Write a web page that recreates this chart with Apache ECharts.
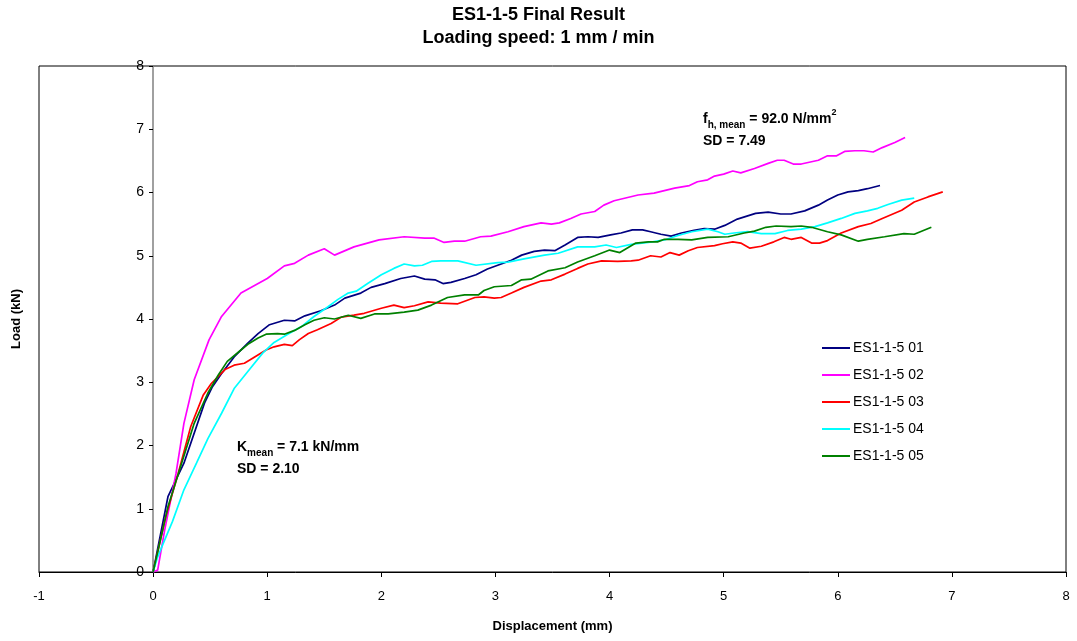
<!DOCTYPE html>
<html>
<head>
<meta charset="utf-8">
<title>ES1-1-5 Final Result</title>
<script src="https://cdn.jsdelivr.net/npm/echarts@6/dist/echarts.min.js"></script>
<style>
    html, body { margin: 0; padding: 0; background: #fff; }
    #chart { width: 1077px; height: 641px; }
</style>
</head>
<body>
<div id="chart"></div>
<script>
// displacement (mm), load (kN) pairs
const es01 = [[0,0],[0.13,1.19],[0.27,1.72],[0.45,2.67],[0.52,2.93],[0.60,3.14],[0.71,3.40],[0.83,3.62],[0.92,3.77],[1.02,3.91],[1.15,3.98],[1.24,3.97],[1.33,4.05],[1.47,4.13],[1.59,4.22],[1.68,4.33],[1.82,4.41],[1.91,4.50],[2.03,4.56],[2.17,4.64],[2.29,4.68],[2.38,4.63],[2.47,4.62],[2.54,4.56],[2.61,4.58],[2.73,4.64],[2.83,4.70],[2.93,4.79],[3.02,4.85],[3.14,4.93],[3.23,5.01],[3.34,5.07],[3.43,5.09],[3.52,5.08],[3.61,5.17],[3.72,5.29],[3.81,5.30],[3.90,5.29],[4.01,5.33],[4.10,5.36],[4.20,5.41],[4.29,5.41],[4.36,5.38],[4.45,5.34],[4.54,5.31],[4.63,5.36],[4.74,5.40],[4.83,5.43],[4.92,5.42],[5.01,5.48],[5.12,5.58],[5.28,5.67],[5.39,5.69],[5.50,5.66],[5.59,5.66],[5.71,5.71],[5.83,5.80],[5.91,5.88],[6.00,5.96],[6.09,6.01],[6.18,6.03],[6.26,6.06],[6.37,6.11]];
const es02 = [[0,0],[0.04,0.03],[0.10,0.65],[0.20,1.55],[0.27,2.35],[0.36,3.04],[0.49,3.67],[0.60,4.04],[0.77,4.41],[1.00,4.64],[1.15,4.84],[1.24,4.88],[1.36,5.01],[1.50,5.11],[1.59,5.01],[1.76,5.14],[1.98,5.25],[2.20,5.30],[2.38,5.28],[2.46,5.28],[2.55,5.21],[2.64,5.23],[2.73,5.23],[2.87,5.30],[2.96,5.31],[3.11,5.38],[3.25,5.46],[3.40,5.52],[3.49,5.50],[3.56,5.52],[3.66,5.59],[3.75,5.66],[3.87,5.70],[3.95,5.80],[4.04,5.87],[4.25,5.96],[4.39,5.99],[4.57,6.07],[4.70,6.11],[4.77,6.17],[4.86,6.20],[4.92,6.26],[5.00,6.29],[5.08,6.34],[5.15,6.31],[5.27,6.38],[5.39,6.46],[5.47,6.51],[5.53,6.51],[5.61,6.45],[5.68,6.45],[5.83,6.51],[5.91,6.58],[5.99,6.58],[6.06,6.65],[6.15,6.66],[6.23,6.66],[6.31,6.64],[6.39,6.71],[6.50,6.79],[6.59,6.87]];
const es03 = [[0,0],[0.11,0.87],[0.22,1.56],[0.33,2.30],[0.44,2.80],[0.51,2.98],[0.63,3.20],[0.71,3.27],[0.80,3.30],[0.89,3.40],[0.99,3.51],[1.06,3.56],[1.15,3.60],[1.22,3.58],[1.28,3.67],[1.36,3.77],[1.44,3.83],[1.56,3.93],[1.65,4.03],[1.76,4.06],[1.85,4.09],[2.00,4.17],[2.11,4.22],[2.20,4.18],[2.29,4.21],[2.41,4.27],[2.52,4.25],[2.67,4.24],[2.82,4.34],[2.90,4.35],[2.99,4.33],[3.05,4.34],[3.14,4.41],[3.25,4.50],[3.40,4.60],[3.49,4.62],[3.61,4.71],[3.72,4.80],[3.81,4.87],[3.93,4.92],[4.07,4.91],[4.19,4.92],[4.25,4.93],[4.36,5.00],[4.45,4.98],[4.53,5.05],[4.61,5.01],[4.69,5.08],[4.77,5.13],[4.92,5.16],[4.99,5.19],[5.08,5.22],[5.15,5.20],[5.23,5.12],[5.33,5.15],[5.44,5.22],[5.53,5.29],[5.59,5.26],[5.68,5.29],[5.77,5.20],[5.84,5.20],[5.91,5.24],[6.03,5.36],[6.18,5.46],[6.29,5.51],[6.39,5.59],[6.56,5.72],[6.67,5.85],[6.79,5.93],[6.92,6.01]];
const es04 = [[0,0],[0.04,0.24],[0.10,0.50],[0.17,0.80],[0.27,1.30],[0.38,1.72],[0.48,2.11],[0.60,2.51],[0.71,2.90],[0.83,3.17],[0.96,3.46],[1.06,3.63],[1.18,3.76],[1.30,3.88],[1.41,4.04],[1.53,4.19],[1.62,4.31],[1.71,4.41],[1.78,4.44],[1.88,4.56],[2.00,4.70],[2.11,4.80],[2.20,4.87],[2.29,4.84],[2.36,4.85],[2.44,4.91],[2.52,4.92],[2.67,4.92],[2.83,4.85],[3.02,4.89],[3.11,4.90],[3.25,4.95],[3.43,5.01],[3.55,5.04],[3.72,5.14],[3.87,5.14],[3.97,5.17],[4.06,5.13],[4.19,5.18],[4.34,5.21],[4.48,5.25],[4.60,5.32],[4.72,5.38],[4.86,5.42],[4.95,5.38],[5.01,5.34],[5.09,5.36],[5.21,5.38],[5.33,5.35],[5.45,5.35],[5.56,5.40],[5.68,5.42],[5.80,5.46],[5.91,5.52],[6.03,5.59],[6.15,5.67],[6.26,5.71],[6.35,5.75],[6.44,5.81],[6.56,5.88],[6.67,5.91]];
const es05 = [[0,0],[0.13,1.03],[0.25,1.72],[0.36,2.35],[0.48,2.83],[0.57,3.11],[0.65,3.33],[0.77,3.51],[0.83,3.60],[0.92,3.70],[0.99,3.76],[1.09,3.77],[1.15,3.76],[1.24,3.82],[1.33,3.91],[1.41,3.98],[1.50,4.02],[1.59,4.00],[1.71,4.06],[1.82,4.01],[1.94,4.08],[2.06,4.08],[2.20,4.11],[2.32,4.14],[2.44,4.22],[2.58,4.34],[2.73,4.38],[2.85,4.38],[2.90,4.45],[2.99,4.51],[3.14,4.53],[3.23,4.62],[3.31,4.63],[3.46,4.76],[3.61,4.81],[3.72,4.90],[3.87,5.00],[4.00,5.09],[4.09,5.05],[4.23,5.20],[4.34,5.22],[4.42,5.22],[4.48,5.26],[4.60,5.26],[4.72,5.25],[4.86,5.29],[5.04,5.30],[5.18,5.36],[5.27,5.39],[5.37,5.45],[5.46,5.47],[5.59,5.46],[5.68,5.47],[5.77,5.45],[5.91,5.38],[6.03,5.33],[6.18,5.23],[6.26,5.26],[6.41,5.30],[6.58,5.35],[6.67,5.34],[6.82,5.45]];

const seriesNames = ['ES1-1-5 01', 'ES1-1-5 02', 'ES1-1-5 03', 'ES1-1-5 04', 'ES1-1-5 05'];
const seriesData = [es01, es02, es03, es04, es05];
const seriesColors = ['#000080', '#ff00ff', '#ff0000', '#00ffff', '#008000'];

const FONT = '"Liberation Sans", Arial, sans-serif';

const myChart = echarts.init(document.getElementById('chart'));

const option = {
    animation: false,
    backgroundColor: '#fff',
    textStyle: {fontFamily: FONT},
    title: {
        text: 'ES1-1-5 Final Result\nLoading speed: 1 mm / min',
        left: 'center',
        top: 4,
        padding: 0,
        textStyle: {fontSize: 18, fontWeight: 'bold', color: '#000', lineHeight: 23, fontFamily: FONT}
    },
    legend: {
        orient: 'vertical',
        left: 817,
        top: 336,
        itemWidth: 28,
        itemHeight: 2,
        itemGap: 13,
        icon: 'rect',
        data: seriesNames,
        textStyle: {fontSize: 14, color: '#000', padding: [0, 0, 0, -2], fontFamily: FONT}
    },
    grid: {
        left: 39,
        right: 11,
        top: 66,
        bottom: 69,
        containLabel: false,
        outerBoundsMode: 'none',
        show: true,
        borderColor: '#000',
        borderWidth: 1
    },
    xAxis: {
        type: 'value',
        min: -1,
        max: 8,
        interval: 1,
        name: 'Displacement (mm)',
        nameLocation: 'middle',
        nameGap: 48,
        nameTextStyle: {fontSize: 13, fontWeight: 'bold', color: '#000', fontFamily: FONT},
        axisLine: {lineStyle: {color: '#000', width: 1}},
        axisTick: {length: 5, lineStyle: {color: '#000'}},
        axisLabel: {fontSize: 13, color: '#000', margin: 18},
        splitLine: {show: false}
    },
    yAxis: {
        type: 'value',
        min: 0,
        max: 8,
        interval: 1,
        // the value axis sits at displacement 0, one x-unit in from the plot's left edge
        offset: -114,
        name: 'Load (kN)',
        nameLocation: 'middle',
        nameGap: 130,
        nameTextStyle: {fontSize: 13, fontWeight: 'bold', color: '#000', fontFamily: FONT},
        axisLine: {show: true, onZero: false, lineStyle: {color: '#808080', width: 1.5}},
        axisTick: {show: true, length: 4, lineStyle: {color: '#000'}},
        axisLabel: {fontSize: 14, color: '#000', margin: 9},
        splitLine: {show: false}
    },
    graphic: [
        {
            type: 'text',
            left: 237,
            top: 440,
            style: {
                text: '{b|K}{s|mean}{b| = 7.1 kN/mm}\n{b|SD = 2.10}',
                rich: {
                    b: {fontSize: 14, fontWeight: 'bold', fontFamily: FONT, fill: '#000', lineHeight: 22},
                    s: {fontSize: 10, fontWeight: 'bold', fontFamily: FONT, fill: '#000', lineHeight: 22, verticalAlign: 'bottom', padding: [5, 0, 0, 0]}
                }
            }
        },
        {
            type: 'text',
            left: 703,
            top: 108,
            style: {
                text: '{b|f}{s|h, mean}{b| = 92.0 N/mm}{p|2}\n{b|SD = 7.49}',
                rich: {
                    b: {fontSize: 14, fontWeight: 'bold', fontFamily: FONT, fill: '#000', lineHeight: 22},
                    s: {fontSize: 10, fontWeight: 'bold', fontFamily: FONT, fill: '#000', lineHeight: 22, verticalAlign: 'bottom', padding: [5, 0, 0, 0]},
                    p: {fontSize: 9, fontWeight: 'bold', fontFamily: FONT, fill: '#000', lineHeight: 22, verticalAlign: 'top', padding: [0, 0, 6, 0]}
                }
            }
        }
    ],
    series: seriesNames.map((name, i) => ({
        name: name,
        type: 'line',
        data: seriesData[i],
        showSymbol: false,
        symbol: 'none',
        smooth: false,
        color: seriesColors[i],
        lineStyle: {width: 1.7, color: seriesColors[i]}
    }))
};

option && myChart.setOption(option);
</script>
</body>
</html>
